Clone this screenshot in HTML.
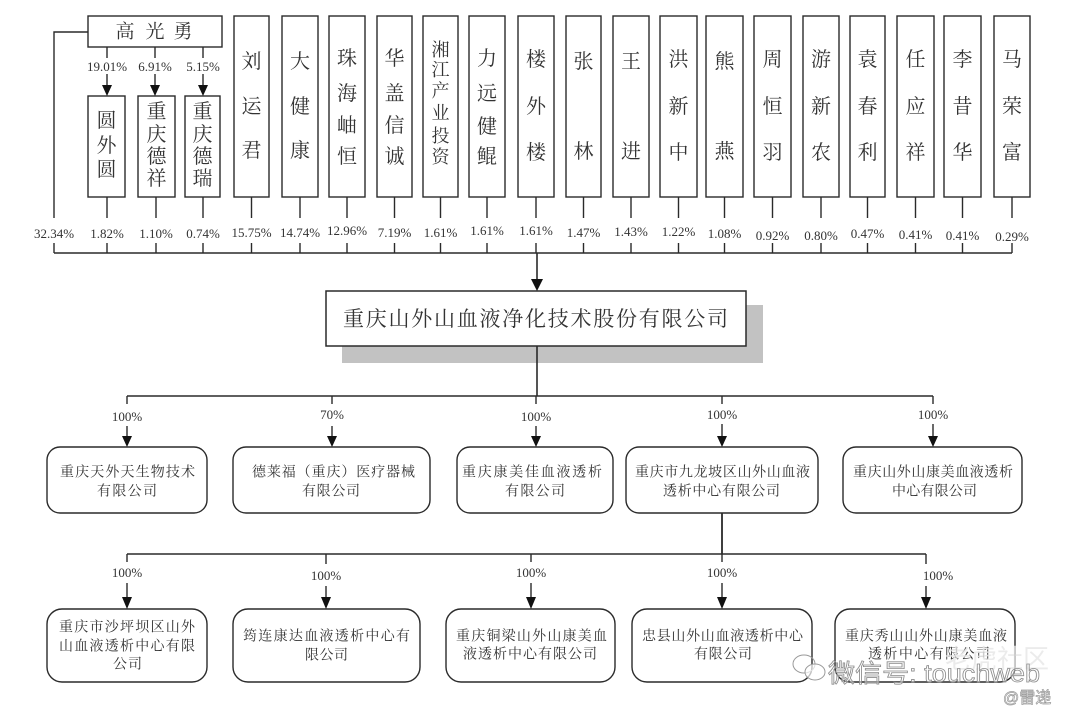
<!DOCTYPE html>
<html><head><meta charset="utf-8"><style>
html,body{margin:0;padding:0;background:#fff;}
svg{display:block;}
.cj{font-family:"Liberation Serif","Noto Serif CJK SC",serif;fill:#333;}
.pc{font-family:"Liberation Serif","Noto Serif CJK SC",serif;fill:#333;font-size:13px;}
</style></head><body>
<svg width="1080" height="722" viewBox="0 0 1080 722" xmlns="http://www.w3.org/2000/svg">
<rect width="1080" height="722" fill="#fff"/>
<g stroke="#2a2a2a" stroke-width="1.4" fill="none">
<!-- 高光勇 box -->
<rect x="88" y="16" width="134" height="31"/>
<!-- small boxes -->
<rect x="88" y="96" width="37" height="101"/>
<rect x="138" y="96" width="37" height="101"/>
<rect x="185" y="96" width="35" height="101"/>
<!-- tall boxes -->
<rect x="234" y="16" width="35" height="181"/>
<rect x="282" y="16" width="36" height="181"/>
<rect x="329" y="16" width="36" height="181"/>
<rect x="377" y="16" width="35" height="181"/>
<rect x="423" y="16" width="35" height="181"/>
<rect x="469" y="16" width="36" height="181"/>
<rect x="518" y="16" width="36" height="181"/>
<rect x="566" y="16" width="35" height="181"/>
<rect x="613" y="16" width="36" height="181"/>
<rect x="660" y="16" width="37" height="181"/>
<rect x="706" y="16" width="37" height="181"/>
<rect x="754" y="16" width="37" height="181"/>
<rect x="803" y="16" width="36" height="181"/>
<rect x="850" y="16" width="35" height="181"/>
<rect x="897" y="16" width="37" height="181"/>
<rect x="944" y="16" width="37" height="181"/>
<rect x="994" y="16" width="36" height="181"/>
<!-- left line -->
<path d="M88 32 H54 V218 M54 243 V253"/>
<!-- 高光勇 arrows lines -->
<path d="M107 47 V58 M107 74 V86 M155 47 V58 M155 74 V86 M203 47 V58 M203 74 V86"/>
<!-- top-row drops -->
<path d="M107 197 V218 M107 243 V253 M156 197 V218 M156 243 V253 M203 197 V218 M203 243 V253
M251.5 197 V218 M251.5 243 V253 M300 197 V218 M300 243 V253 M347 197 V218 M347 243 V253
M394.5 197 V218 M394.5 243 V253 M440.5 197 V218 M440.5 243 V253 M487 197 V218 M487 243 V253
M536 197 V218 M536 243 V253 M583.5 197 V218 M583.5 243 V253 M631 197 V218 M631 243 V253
M678.5 197 V218 M678.5 243 V253 M724.5 197 V218 M724.5 243 V253 M772.5 197 V218 M772.5 243 V253
M821 197 V218 M821 243 V253 M867.5 197 V218 M867.5 243 V253 M915.5 197 V218 M915.5 243 V253
M962.5 197 V218 M962.5 243 V253 M1012 197 V218 M1012 243 V253"/>
<path d="M54 253 H1012" stroke-width="1.6"/>
<path d="M537 253 V280" stroke-width="1.6"/>
<!-- main box -->
</g>
<rect x="342" y="305" width="421" height="58" fill="#c2c2c2"/>
<rect x="326" y="291" width="420" height="55" fill="#fff" stroke="#2a2a2a" stroke-width="1.5"/>
<g stroke="#2a2a2a" stroke-width="1.4" fill="none">
<path d="M537 346 V396" stroke-width="1.6"/>
<path d="M127 396 H933"/>
<path d="M127 396 V404 M127 426 V437 M332 396 V404 M332 426 V437 M536 396 V404 M536 426 V437 M722 396 V404 M722 424 V437 M933 396 V404 M933 424 V437"/>
<!-- middle boxes -->
<rect x="47" y="447" width="160" height="66" rx="13"/>
<rect x="233" y="447" width="197" height="66" rx="13"/>
<rect x="457" y="447" width="156" height="66" rx="13"/>
<rect x="626" y="447" width="192" height="66" rx="13"/>
<rect x="843" y="447" width="179" height="66" rx="13"/>
<path d="M722 513 V554" stroke-width="1.8"/>
<path d="M127 554 H926"/>
<path d="M127 554 V562 M127 583 V598 M326 554 V564 M326 586 V598 M531 554 V562 M531 583 V598 M722 554 V562 M722 583 V598 M926 554 V564 M926 586 V598"/>
<!-- bottom boxes -->
<rect x="47" y="609" width="160" height="73" rx="15"/>
<rect x="233" y="609" width="187" height="73" rx="15"/>
<rect x="446" y="609" width="169" height="73" rx="15"/>
<rect x="632" y="609" width="180" height="73" rx="15"/>
<rect x="835" y="609" width="180" height="73" rx="15"/>
</g>
<!-- arrowheads -->
<g fill="#111">
<polygon points="102,85 112,85 107,96"/>
<polygon points="150,85 160,85 155,96"/>
<polygon points="198,85 208,85 203,96"/>
<polygon points="531,279 543,279 537,291"/>
<polygon points="122,436 132,436 127,447"/>
<polygon points="327,436 337,436 332,447"/>
<polygon points="531,436 541,436 536,447"/>
<polygon points="717,436 727,436 722,447"/>
<polygon points="928,436 938,436 933,447"/>
<polygon points="122,597 132,597 127,609"/>
<polygon points="321,597 331,597 326,609"/>
<polygon points="526,597 536,597 531,609"/>
<polygon points="717,597 727,597 722,609"/>
<polygon points="921,597 931,597 926,609"/>
</g>
<!-- text top -->
<g class="cj" font-size="19" text-anchor="middle" dominant-baseline="central">
<text x="125" y="32">高</text><text x="155" y="32">光</text><text x="183" y="32">勇</text>
</g>
<g class="pc" text-anchor="middle">
<text x="107" y="71">19.01%</text><text x="155" y="71">6.91%</text><text x="203" y="71">5.15%</text>
</g>
<g class="cj" font-size="20" text-anchor="middle" dominant-baseline="central">
<text x="106.5" y="121">圆</text><text x="106.5" y="146">外</text><text x="106.5" y="170">圆</text>
<text x="156.5" y="112">重</text><text x="156.5" y="135">庆</text><text x="156.5" y="157">德</text><text x="156.5" y="179">祥</text>
<text x="202.5" y="112">重</text><text x="202.5" y="135">庆</text><text x="202.5" y="157">德</text><text x="202.5" y="179">瑞</text>
<text x="251.5" y="62">刘</text><text x="251.5" y="107">运</text><text x="251.5" y="151">君</text>
<text x="300" y="62">大</text><text x="300" y="107">健</text><text x="300" y="151">康</text>
<text x="347" y="59">珠</text><text x="347" y="94">海</text><text x="347" y="126">岫</text><text x="347" y="157">恒</text>
<text x="394.5" y="59">华</text><text x="394.5" y="94">盖</text><text x="394.5" y="126">信</text><text x="394.5" y="157">诚</text>
<text x="487" y="59">力</text><text x="487" y="94">远</text><text x="487" y="127">健</text><text x="487" y="157">鲲</text>
<text x="536" y="60">楼</text><text x="536" y="107">外</text><text x="536" y="153">楼</text>
<text x="583.5" y="62">张</text><text x="583.5" y="152">林</text>
<text x="631" y="62">王</text><text x="631" y="152">进</text>
<text x="678.5" y="60">洪</text><text x="678.5" y="107">新</text><text x="678.5" y="153">中</text>
<text x="724.5" y="62">熊</text><text x="724.5" y="152">燕</text>
<text x="772.5" y="60">周</text><text x="772.5" y="107">恒</text><text x="772.5" y="153">羽</text>
<text x="821" y="60">游</text><text x="821" y="107">新</text><text x="821" y="153">农</text>
<text x="867.5" y="60">袁</text><text x="867.5" y="107">春</text><text x="867.5" y="153">利</text>
<text x="915.5" y="60">任</text><text x="915.5" y="107">应</text><text x="915.5" y="153">祥</text>
<text x="962.5" y="60">李</text><text x="962.5" y="107">昔</text><text x="962.5" y="153">华</text>
<text x="1012" y="60">马</text><text x="1012" y="107">荣</text><text x="1012" y="153">富</text>
</g>
<g class="cj" font-size="18" text-anchor="middle" dominant-baseline="central">
<text x="440.5" y="50">湘</text><text x="440.5" y="70">江</text><text x="440.5" y="91">产</text><text x="440.5" y="113">业</text><text x="440.5" y="136">投</text><text x="440.5" y="157">资</text>
</g>
<g class="pc" text-anchor="middle">
<text x="54" y="238">32.34%</text>
<text x="107" y="238">1.82%</text>
<text x="156" y="238">1.10%</text>
<text x="203" y="238">0.74%</text>
<text x="251.5" y="237">15.75%</text>
<text x="300" y="237">14.74%</text>
<text x="347" y="235">12.96%</text>
<text x="394.5" y="237">7.19%</text>
<text x="440.5" y="237">1.61%</text>
<text x="487" y="235">1.61%</text>
<text x="536" y="235">1.61%</text>
<text x="583.5" y="237">1.47%</text>
<text x="631" y="236">1.43%</text>
<text x="678.5" y="236">1.22%</text>
<text x="724.5" y="238">1.08%</text>
<text x="772.5" y="240">0.92%</text>
<text x="821" y="240">0.80%</text>
<text x="867.5" y="238">0.47%</text>
<text x="915.5" y="239">0.41%</text>
<text x="962.5" y="240">0.41%</text>
<text x="1012" y="241">0.29%</text>
</g>
<!-- main company -->
<text class="cj" x="343" y="319" font-size="21" dominant-baseline="central" textLength="385" lengthAdjust="spacing">重庆山外山血液净化技术股份有限公司</text>
<!-- middle row labels -->
<g class="pc" text-anchor="middle">
<text x="127" y="421">100%</text>
<text x="332" y="419">70%</text>
<text x="536" y="421">100%</text>
<text x="722" y="419">100%</text>
<text x="933" y="419">100%</text>
<text x="127" y="577">100%</text>
<text x="326" y="580">100%</text>
<text x="531" y="577">100%</text>
<text x="722" y="577">100%</text>
<text x="938" y="580">100%</text>
</g>
<g class="cj" font-size="14" dominant-baseline="central" lengthAdjust="spacing">
<text x="60" y="473" textLength="135">重庆天外天生物技术</text>
<text x="97" y="492" textLength="60">有限公司</text>
<text x="252" y="473" textLength="163">德莱福（重庆）医疗器械</text>
<text x="302" y="492" textLength="58">有限公司</text>
<text x="462" y="473" textLength="140">重庆康美佳血液透析</text>
<text x="505" y="492" textLength="60">有限公司</text>
<text x="635" y="473" textLength="175">重庆市九龙坡区山外山血液</text>
<text x="663" y="492" textLength="117">透析中心有限公司</text>
<text x="853" y="473" textLength="160">重庆山外山康美血液透析</text>
<text x="892" y="492" textLength="85">中心有限公司</text>

<text x="59" y="628" textLength="136">重庆市沙坪坝区山外</text>
<text x="59" y="647" textLength="136">山血液透析中心有限</text>
<text x="113" y="665" textLength="29">公司</text>
<text x="243" y="637" textLength="167">筠连康达血液透析中心有</text>
<text x="305" y="656" textLength="43">限公司</text>
<text x="456" y="637" textLength="151">重庆铜梁山外山康美血</text>
<text x="463" y="655" textLength="134">液透析中心有限公司</text>
<text x="642" y="637" textLength="161">忠县山外山血液透析中心</text>
<text x="694" y="655" textLength="58">有限公司</text>
<text x="845" y="637" textLength="162">重庆秀山山外山康美血液</text>
<text x="868" y="655" textLength="122">透析中心有限公司</text>
</g>
<!-- watermark -->
<g fill="none" stroke="#9a9a9a" stroke-width="1">
<ellipse cx="804" cy="664" rx="11" ry="9"/>
<ellipse cx="815" cy="672" rx="10" ry="8" fill="#fff" fill-opacity="0.7"/>
</g>
<text x="945" y="668" font-family="'Liberation Sans','Noto Sans CJK SC',sans-serif" font-size="26" fill="#e6e6e6" fill-opacity="0.8">老虎社区</text>
<text x="828" y="682" font-family="'Liberation Sans','Noto Sans CJK SC',sans-serif" font-size="25" fill="#ffffff" fill-opacity="0.5" stroke="#8c8c8c" stroke-width="0.8" textLength="212" lengthAdjust="spacingAndGlyphs">微信号: touchweb</text>
<text x="1003" y="703" font-family="'Liberation Sans','Noto Sans CJK SC',sans-serif" font-size="16" fill="#ffffff" stroke="#9a9a9a" stroke-width="0.7">@雷递</text>
</svg>
</body></html>
